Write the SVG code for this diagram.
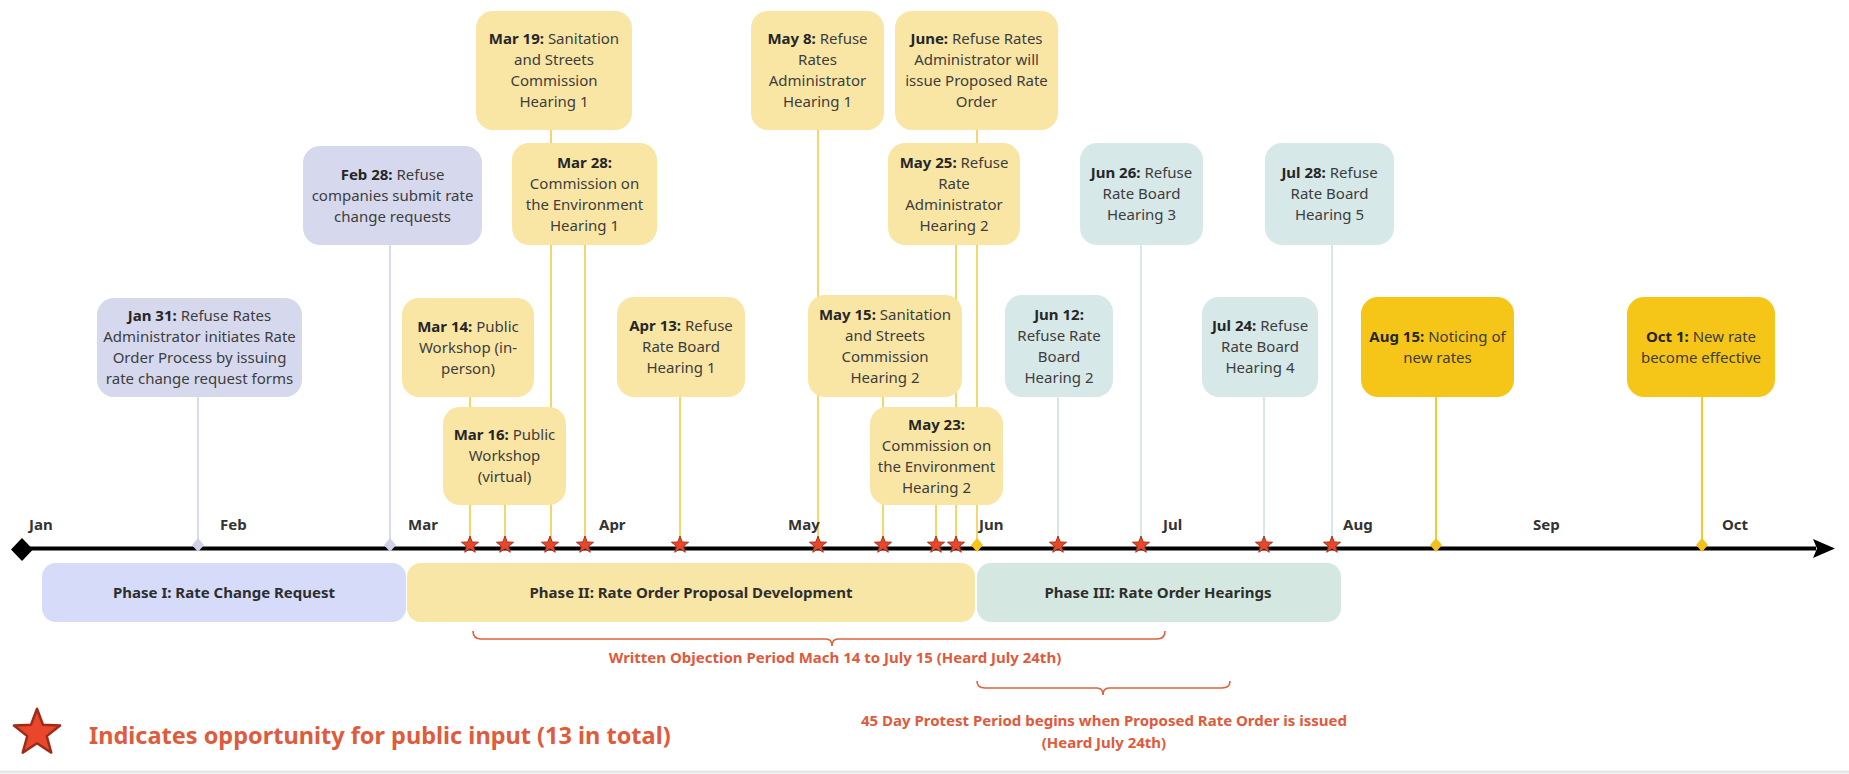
<svg xmlns="http://www.w3.org/2000/svg" width="1849" height="774" viewBox="0 0 1849 774">
<style>
.t{font-family:"Noto Sans","Open Sans",sans-serif;font-size:15px;fill:#3d3d3d;text-anchor:middle}
.t tspan.b,.b{font-weight:700;fill:#262626}
.m{font-family:"Noto Sans","Open Sans",sans-serif;font-size:15px;font-weight:700;fill:#333}
.ph{font-family:"Noto Sans","Open Sans",sans-serif;font-size:15px;font-weight:700;fill:#2e2e2e;text-anchor:middle}
.red{font-family:"Noto Sans","Open Sans",sans-serif;font-weight:700;fill:#e05a3c}
.bl{fill:#d6d9ee}
.ye{fill:#f9e6a5}
.te{fill:#d7e8e9}
.go{fill:#f5c518}
.lb{stroke:#cfd3ea;stroke-width:1.6;fill:none}
.ly{stroke:#f3d25c;stroke-width:1.8;fill:none}
.lt{stroke:#cfe2e3;stroke-width:1.6;fill:none}
.lg{stroke:#f2c21a;stroke-width:1.8;fill:none}
.brace{stroke:#e0613f;stroke-width:1.6;fill:none}
</style>
<defs>
<path id="star" d="M0,-9 L2.23,-3.07 L8.56,-2.78 L3.61,1.17 L5.29,7.28 L0,3.8 L-5.29,7.28 L-3.61,1.17 L-8.56,-2.78 L-2.23,-3.07Z" fill="#e8472c" stroke="#9e2a17" stroke-width="0.9" stroke-linejoin="round"/>
<path id="dia" d="M0,-7 L6,0 L0,7 L-6,0Z"/>
</defs>
<rect x="0" y="0" width="1849" height="774" fill="#ffffff"/>
<line x1="0" y1="772" x2="1849" y2="772" stroke="#e6e6e6" stroke-width="3"/>

<g id="connectors">
<line class="lb" x1="198" y1="397" x2="198" y2="545"/>
<line class="lb" x1="390" y1="245" x2="390" y2="545"/>
<line class="ly" x1="551" y1="130" x2="551" y2="545"/>
<line class="ly" x1="585" y1="245" x2="585" y2="545"/>
<line class="ly" x1="470" y1="397" x2="470" y2="545"/>
<line class="ly" x1="505" y1="505" x2="505" y2="545"/>
<line class="ly" x1="680" y1="397" x2="680" y2="545"/>
<line class="ly" x1="818" y1="130" x2="818" y2="545"/>
<line class="ly" x1="977" y1="130" x2="977" y2="545"/>
<line class="ly" x1="956" y1="245" x2="956" y2="545"/>
<line class="ly" x1="883" y1="397" x2="883" y2="545"/>
<line class="ly" x1="936" y1="505" x2="936" y2="545"/>
<line class="lt" x1="1058" y1="397" x2="1058" y2="545"/>
<line class="lt" x1="1141" y1="245" x2="1141" y2="545"/>
<line class="lt" x1="1264" y1="397" x2="1264" y2="545"/>
<line class="lt" x1="1332" y1="245" x2="1332" y2="545"/>
<line class="lg" x1="1436" y1="397" x2="1436" y2="545"/>
<line class="lg" x1="1702" y1="397" x2="1702" y2="545"/>
</g>

<g id="timeline">
<line x1="22" y1="548.5" x2="1816" y2="548.5" stroke="#000" stroke-width="4"/>
<path d="M1813,539 L1835,548.5 L1813,558 L1817,548.5Z" fill="#000"/>
<path d="M22,538 L33,549.5 L22,561 L11,549.5Z" fill="#000"/>
<use href="#dia" x="198" y="545" fill="#cfd3ea"/>
<use href="#dia" x="390" y="545" fill="#cfd3ea"/>
<use href="#dia" x="977" y="545" fill="#f5c518"/>
<use href="#dia" x="1436" y="545" fill="#f2c21a"/>
<use href="#dia" x="1702" y="545" fill="#f2c21a"/>
<use href="#star" x="470" y="545"/>
<use href="#star" x="505" y="545"/>
<use href="#star" x="550" y="545"/>
<use href="#star" x="585" y="545"/>
<use href="#star" x="680" y="545"/>
<use href="#star" x="818" y="545"/>
<use href="#star" x="883" y="545"/>
<use href="#star" x="936" y="545"/>
<use href="#star" x="956" y="545"/>
<use href="#star" x="1058" y="545"/>
<use href="#star" x="1141" y="545"/>
<use href="#star" x="1264" y="545"/>
<use href="#star" x="1332" y="545"/>
<text class="m" x="29" y="530">Jan</text>
<text class="m" x="220" y="530">Feb</text>
<text class="m" x="408" y="530">Mar</text>
<text class="m" x="599" y="530">Apr</text>
<text class="m" x="788" y="530">May</text>
<text class="m" x="979" y="530">Jun</text>
<text class="m" x="1163" y="530">Jul</text>
<text class="m" x="1343" y="530">Aug</text>
<text class="m" x="1533" y="530">Sep</text>
<text class="m" x="1722" y="530">Oct</text>
</g>

<g id="phase1"><rect x="42" y="563" width="364" height="59" rx="14" fill="#d5dbf8"/><text class="ph" x="224" y="598">Phase I: Rate Change Request</text></g>
<g id="phase2"><rect x="407" y="563" width="568" height="59" rx="14" fill="#f8e6a6"/><text class="ph" x="691" y="598">Phase II: Rate Order Proposal Development</text></g>
<g id="phase3"><rect x="977" y="563" width="364" height="59" rx="14" fill="#d4e8e1"/><text class="ph" x="1158" y="598">Phase III: Rate Order Hearings</text></g>

<g id="jan31"><rect class="bl" x="97" y="298" width="205" height="99" rx="17"/>
<text class="t" x="199.5" y="321"><tspan class="b">Jan 31:</tspan> Refuse Rates</text>
<text class="t" x="199.5" y="342">Administrator initiates Rate</text>
<text class="t" x="199.5" y="363">Order Process by issuing</text>
<text class="t" x="199.5" y="384">rate change request forms</text></g>

<g id="feb28"><rect class="bl" x="303" y="146" width="179" height="99" rx="17"/>
<text class="t" x="392.5" y="180"><tspan class="b">Feb 28:</tspan> Refuse</text>
<text class="t" x="392.5" y="201">companies submit rate</text>
<text class="t" x="392.5" y="222">change requests</text></g>

<g id="mar19"><rect class="ye" x="476" y="11" width="156" height="119" rx="17"/>
<text class="t" x="554" y="44"><tspan class="b">Mar 19:</tspan> Sanitation</text>
<text class="t" x="554" y="65">and Streets</text>
<text class="t" x="554" y="86">Commission</text>
<text class="t" x="554" y="107">Hearing 1</text></g>

<g id="mar28"><rect class="ye" x="512" y="143" width="145" height="102" rx="17"/>
<text class="t" x="584.5" y="167.5"><tspan class="b">Mar 28:</tspan></text>
<text class="t" x="584.5" y="188.5">Commission on</text>
<text class="t" x="584.5" y="209.5">the Environment</text>
<text class="t" x="584.5" y="230.5">Hearing 1</text></g>

<g id="mar14"><rect class="ye" x="402" y="298" width="132" height="99" rx="17"/>
<text class="t" x="468" y="331.5"><tspan class="b">Mar 14:</tspan> Public</text>
<text class="t" x="468" y="352.5">Workshop (in-</text>
<text class="t" x="468" y="373.5">person)</text></g>

<g id="mar16"><rect class="ye" x="443" y="407" width="123" height="98" rx="17"/>
<text class="t" x="504.5" y="440"><tspan class="b">Mar 16:</tspan> Public</text>
<text class="t" x="504.5" y="461">Workshop</text>
<text class="t" x="504.5" y="482">(virtual)</text></g>

<g id="apr13"><rect class="ye" x="617" y="297" width="128" height="100" rx="17"/>
<text class="t" x="681" y="331"><tspan class="b">Apr 13:</tspan> Refuse</text>
<text class="t" x="681" y="352">Rate Board</text>
<text class="t" x="681" y="373">Hearing 1</text></g>

<g id="may8"><rect class="ye" x="751" y="11" width="133" height="119" rx="17"/>
<text class="t" x="817.5" y="44"><tspan class="b">May 8:</tspan> Refuse</text>
<text class="t" x="817.5" y="65">Rates</text>
<text class="t" x="817.5" y="86">Administrator</text>
<text class="t" x="817.5" y="107">Hearing 1</text></g>

<g id="june"><rect class="ye" x="895" y="11" width="163" height="119" rx="17"/>
<text class="t" x="976.5" y="44"><tspan class="b">June:</tspan> Refuse Rates</text>
<text class="t" x="976.5" y="65">Administrator will</text>
<text class="t" x="976.5" y="86">issue Proposed Rate</text>
<text class="t" x="976.5" y="107">Order</text></g>

<g id="may25"><rect class="ye" x="888" y="143" width="132" height="102" rx="17"/>
<text class="t" x="954" y="167.5"><tspan class="b">May 25:</tspan> Refuse</text>
<text class="t" x="954" y="188.5">Rate</text>
<text class="t" x="954" y="209.5">Administrator</text>
<text class="t" x="954" y="230.5">Hearing 2</text></g>

<g id="may15"><rect class="ye" x="808" y="295" width="154" height="102" rx="17"/>
<text class="t" x="885" y="319.5"><tspan class="b">May 15:</tspan> Sanitation</text>
<text class="t" x="885" y="340.5">and Streets</text>
<text class="t" x="885" y="361.5">Commission</text>
<text class="t" x="885" y="382.5">Hearing 2</text></g>

<g id="may23"><rect class="ye" x="870" y="407" width="133" height="98" rx="17"/>
<text class="t" x="936.5" y="429.5"><tspan class="b">May 23:</tspan></text>
<text class="t" x="936.5" y="450.5">Commission on</text>
<text class="t" x="936.5" y="471.5">the Environment</text>
<text class="t" x="936.5" y="492.5">Hearing 2</text></g>

<g id="jun12"><rect class="te" x="1005" y="295" width="108" height="102" rx="17"/>
<text class="t" x="1059" y="319.5"><tspan class="b">Jun 12:</tspan></text>
<text class="t" x="1059" y="340.5">Refuse Rate</text>
<text class="t" x="1059" y="361.5">Board</text>
<text class="t" x="1059" y="382.5">Hearing 2</text></g>

<g id="jun26"><rect class="te" x="1080" y="143" width="123" height="102" rx="17"/>
<text class="t" x="1141.5" y="178"><tspan class="b">Jun 26:</tspan> Refuse</text>
<text class="t" x="1141.5" y="199">Rate Board</text>
<text class="t" x="1141.5" y="220">Hearing 3</text></g>

<g id="jul24"><rect class="te" x="1202" y="297" width="116" height="100" rx="17"/>
<text class="t" x="1260" y="331"><tspan class="b">Jul 24:</tspan> Refuse</text>
<text class="t" x="1260" y="352">Rate Board</text>
<text class="t" x="1260" y="373">Hearing 4</text></g>

<g id="jul28"><rect class="te" x="1265" y="143" width="129" height="102" rx="17"/>
<text class="t" x="1329.5" y="178"><tspan class="b">Jul 28:</tspan> Refuse</text>
<text class="t" x="1329.5" y="199">Rate Board</text>
<text class="t" x="1329.5" y="220">Hearing 5</text></g>

<g id="aug15"><rect class="go" x="1361" y="297" width="153" height="100" rx="17"/>
<text class="t" x="1437.5" y="341.5"><tspan class="b">Aug 15:</tspan> Noticing of</text>
<text class="t" x="1437.5" y="362.5">new rates</text></g>

<g id="oct1"><rect class="go" x="1627" y="297" width="148" height="100" rx="17"/>
<text class="t" x="1701" y="341.5"><tspan class="b">Oct 1:</tspan> New rate</text>
<text class="t" x="1701" y="362.5">become effective</text></g>

<g id="written-objection">
<path class="brace" d="M473,631 Q473,639 481,639 L826,639 Q832,639 832,646 Q832,639 838,639 L1157,639 Q1165,639 1165,631"/>
<text class="red" x="835" y="663" font-size="15" text-anchor="middle">Written Objection Period Mach 14 to July 15 (Heard July 24th)</text>
</g>
<g id="protest-period">
<path class="brace" d="M977,681 Q977,688 985,688 L1097,688 Q1103,688 1103,695 Q1103,688 1109,688 L1222,688 Q1230,688 1230,681"/>
<text class="red" x="1104" y="726" font-size="15" text-anchor="middle">45 Day Protest Period begins when Proposed Rate Order is issued</text>
<text class="red" x="1104" y="748" font-size="15" text-anchor="middle">(Heard July 24th)</text>
</g>
<g id="legend">
<use href="#star" transform="translate(37,733) scale(2.7)"/>
<text class="red" x="89" y="744" font-size="23.5">Indicates opportunity for public input (13 in total)</text>
</g>
</svg>
